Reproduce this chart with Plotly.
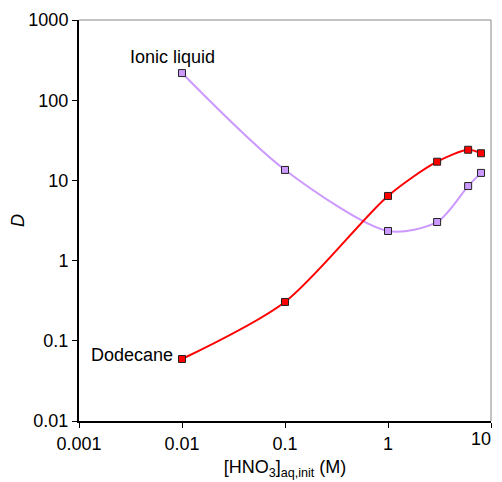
import plotly.graph_objects as go

hno3 = [0.01, 0.1, 1, 3, 6, 8]
d_ionic_liquid = [218, 13.5, 2.34, 3.03, 8.5, 12.4]
d_dodecane = [0.0593, 0.305, 6.4, 17.1, 24.1, 21.8]
x_ticks = [0.001, 0.01, 0.1, 1, 10]
x_ticklabels = ["0.001", "0.01", "0.1", "1", ""]
last_x_label = "10"
y_ticks = [0.01, 0.1, 1, 10, 100, 1000]
y_ticklabels = ["0.01", "0.1", "1", "10", "100", "1000"]

font = "Liberation Sans, Arial, sans-serif"

fig = go.Figure()
fig.add_trace(go.Scatter(
    x=hno3, y=d_ionic_liquid, mode="lines+markers", name="Ionic liquid",
    line=dict(color="#CC99FF", width=2, shape="spline", smoothing=0.8),
    marker=dict(symbol="square", size=7, color="#CC99FF", line=dict(color="#222222", width=1)),
))
fig.add_trace(go.Scatter(
    x=hno3, y=d_dodecane, mode="lines+markers", name="Dodecane",
    line=dict(color="#FF0000", width=2, shape="spline", smoothing=0.8),
    marker=dict(symbol="square", size=7, color="#FF0000", line=dict(color="#222222", width=1)),
))

fig.add_annotation(x=-2.097, y=2.539, xref="x", yref="y", text="Ionic liquid", showarrow=False,
                   font=dict(family=font, size=18, color="black"))
fig.add_annotation(x=-2.49, y=-1.177, xref="x", yref="y", text="Dodecane", showarrow=False,
                   font=dict(family=font, size=18, color="black"))
# last x tick label, shifted left so it fits inside the figure
fig.add_annotation(x=1, y=0, xref="paper", yref="paper", text=last_x_label, showarrow=False,
                   xanchor="right", yanchor="top", xshift=2, yshift=-6,
                   font=dict(family=font, size=18, color="black"))

fig.add_shape(type="line", xref="paper", yref="paper", x0=0, x1=1, y0=1, y1=1,
              line=dict(color="#888888", width=1))
fig.add_shape(type="line", xref="paper", yref="paper", x0=1, x1=1, y0=0, y1=1,
              line=dict(color="#888888", width=1))

# the page body has an 8px margin, so the figure is sized/offset to compensate
fig.update_layout(
    width=494, height=474,
    margin=dict(l=71, r=11, t=12, b=61, autoexpand=False),
    paper_bgcolor="white", plot_bgcolor="white",
    showlegend=False,
    font=dict(family=font, size=18, color="black"),
    xaxis=dict(type="log", range=[-3, 1], tickvals=x_ticks, ticktext=x_ticklabels,
               showgrid=False, zeroline=False, showline=True, linecolor="black", linewidth=2,
               ticks="outside", ticklen=5, tickcolor="black", tickwidth=1, automargin=False,
               title=dict(text="[HNO<sub>3</sub>]<sub>aq,init</sub> (M)", standoff=8,
                          font=dict(family=font, size=18))),
    yaxis=dict(type="log", range=[-2, 3], tickvals=y_ticks, ticktext=y_ticklabels,
               showgrid=False, zeroline=False, showline=True, linecolor="black", linewidth=2,
               ticks="outside", ticklen=5, tickcolor="black", tickwidth=1, automargin=False,
               title=dict(text="<i>D</i>", standoff=4, font=dict(family=font, size=18))),
)

fig.write_html("out.html")
